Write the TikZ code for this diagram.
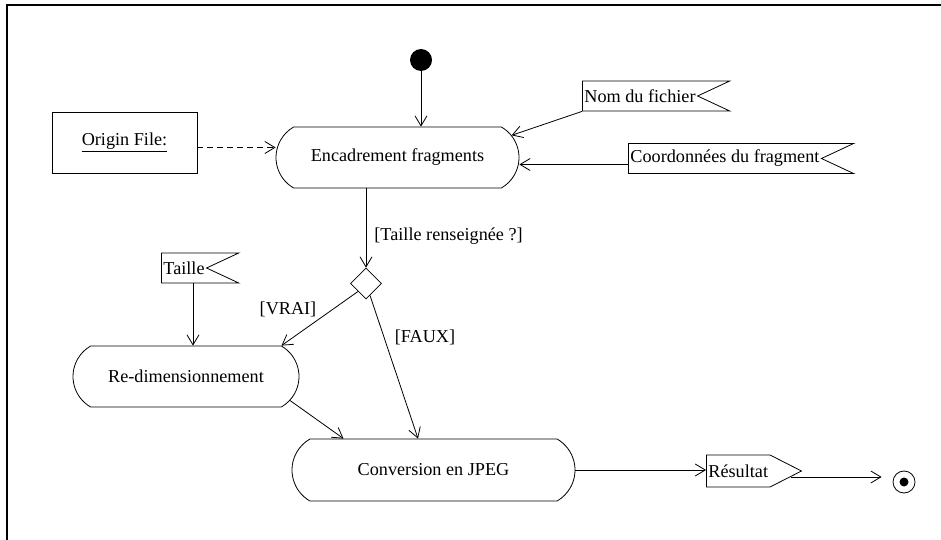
\documentclass[tikz,border=0pt]{standalone}
\usepackage{fontspec}
\setmainfont{Liberation Serif}
\usetikzlibrary{arrows.meta,shapes.misc,shapes.geometric,shapes.symbols}
\begin{document}
\begin{tikzpicture}[x=1pt,y=-1pt,
  every node/.style={font=\fontsize{18.2}{22}\selectfont},
  line width=0.8pt,
  arr/.style={-{Straight Barb[length=10pt,width=12pt]}, line width=0.8pt},
  action/.style={draw, rounded rectangle, rounded rectangle arc length=120, minimum height=61pt, inner sep=0pt},
  recv/.style={draw, signal, signal to=nowhere, signal from=east, signal pointer angle=50, minimum height=30pt, inner xsep=2pt, inner ysep=0pt, anchor=west},
  send/.style={draw, signal, signal to=east, signal pointer angle=54, minimum height=32pt, inner xsep=2pt, inner ysep=0pt, anchor=west},
  objbox/.style={draw, rectangle, minimum width=145pt, minimum height=61pt, inner sep=0pt},
  guard/.style={inner sep=0pt},
  dash6/.style={dash pattern=on 6pt off 4pt}
  ]
\useasboundingbox (0,0) rectangle (941,540);
\draw[line width=2pt] (7,540) -- (7,5) -- (941,5);

% nodes
\node[circle, fill, minimum size=22pt, inner sep=0pt] (start) at (421,60) {};
\node[action, minimum width=243pt] (enc) at (397.5,157.5) {Encadrement fragments};
\node[objbox] (orig) at (124.5,142.5) {\underline{Origin File:}};
\node[recv] (nom) at (582,96) {Nom du fichier};
\node[recv] (coord) at (628,158.5) {Coordonnées du fragment};
\node[draw, diamond, aspect=1, minimum width=31pt, minimum height=31pt, inner sep=0pt] (dia) at (366,283.5) {};
\node[guard, anchor=west] (gtaille) at (374,236) {[Taille renseignée ?]};
\node[recv] (taille) at (161,268) {Taille};
\node[action, minimum width=226pt] (redim) at (186,376.5) {Re-dimensionnement};
\node[guard] (gvrai) at (288,309) {[VRAI]};
\node[guard] (gfaux) at (425,337) {[FAUX]};
\node[action, minimum width=283pt, minimum height=62pt] (conv) at (433.5,470) {Conversion en JPEG};
\node[send] (res) at (706,471) {Résultat};
\node[circle, draw, minimum size=22pt, inner sep=0pt] (endn) at (904,482) {};
\node[circle, fill, minimum size=9pt, inner sep=0pt] (endin) at (endn) {};

% connectors
\draw[arr] (start) -- (start |- enc.north);
\draw[arr, dash6] ([yshift=-5pt]orig.east) -- ([yshift=-5pt]orig.east -| enc.west);
\draw[arr] (nom.south west) -- (enc.11);
\draw[arr] ([yshift=-6pt]coord.west) -- ([yshift=-6pt]coord.west -| enc.east);
\draw[arr] (enc.south -| dia.north) -- (dia.north);
\draw[arr] (dia.south west) -- (redim.north east);
\draw[arr] (dia) -- ([xshift=-15.5pt]conv.north);
\draw[arr] ([xshift=32pt]taille.south west) -- ([xshift=32pt]taille.south west |- redim.north);
\draw[arr] (redim.-13) -- ([xshift=-90pt]conv.north);
\draw[arr] (conv.east) -- (conv.east -| res.west);
\draw[arr] ([xshift=-11pt,yshift=-6pt]res.east) -- ([xshift=-11pt,yshift=-6pt]res.east -| endn.west);
\end{tikzpicture}
\end{document}
